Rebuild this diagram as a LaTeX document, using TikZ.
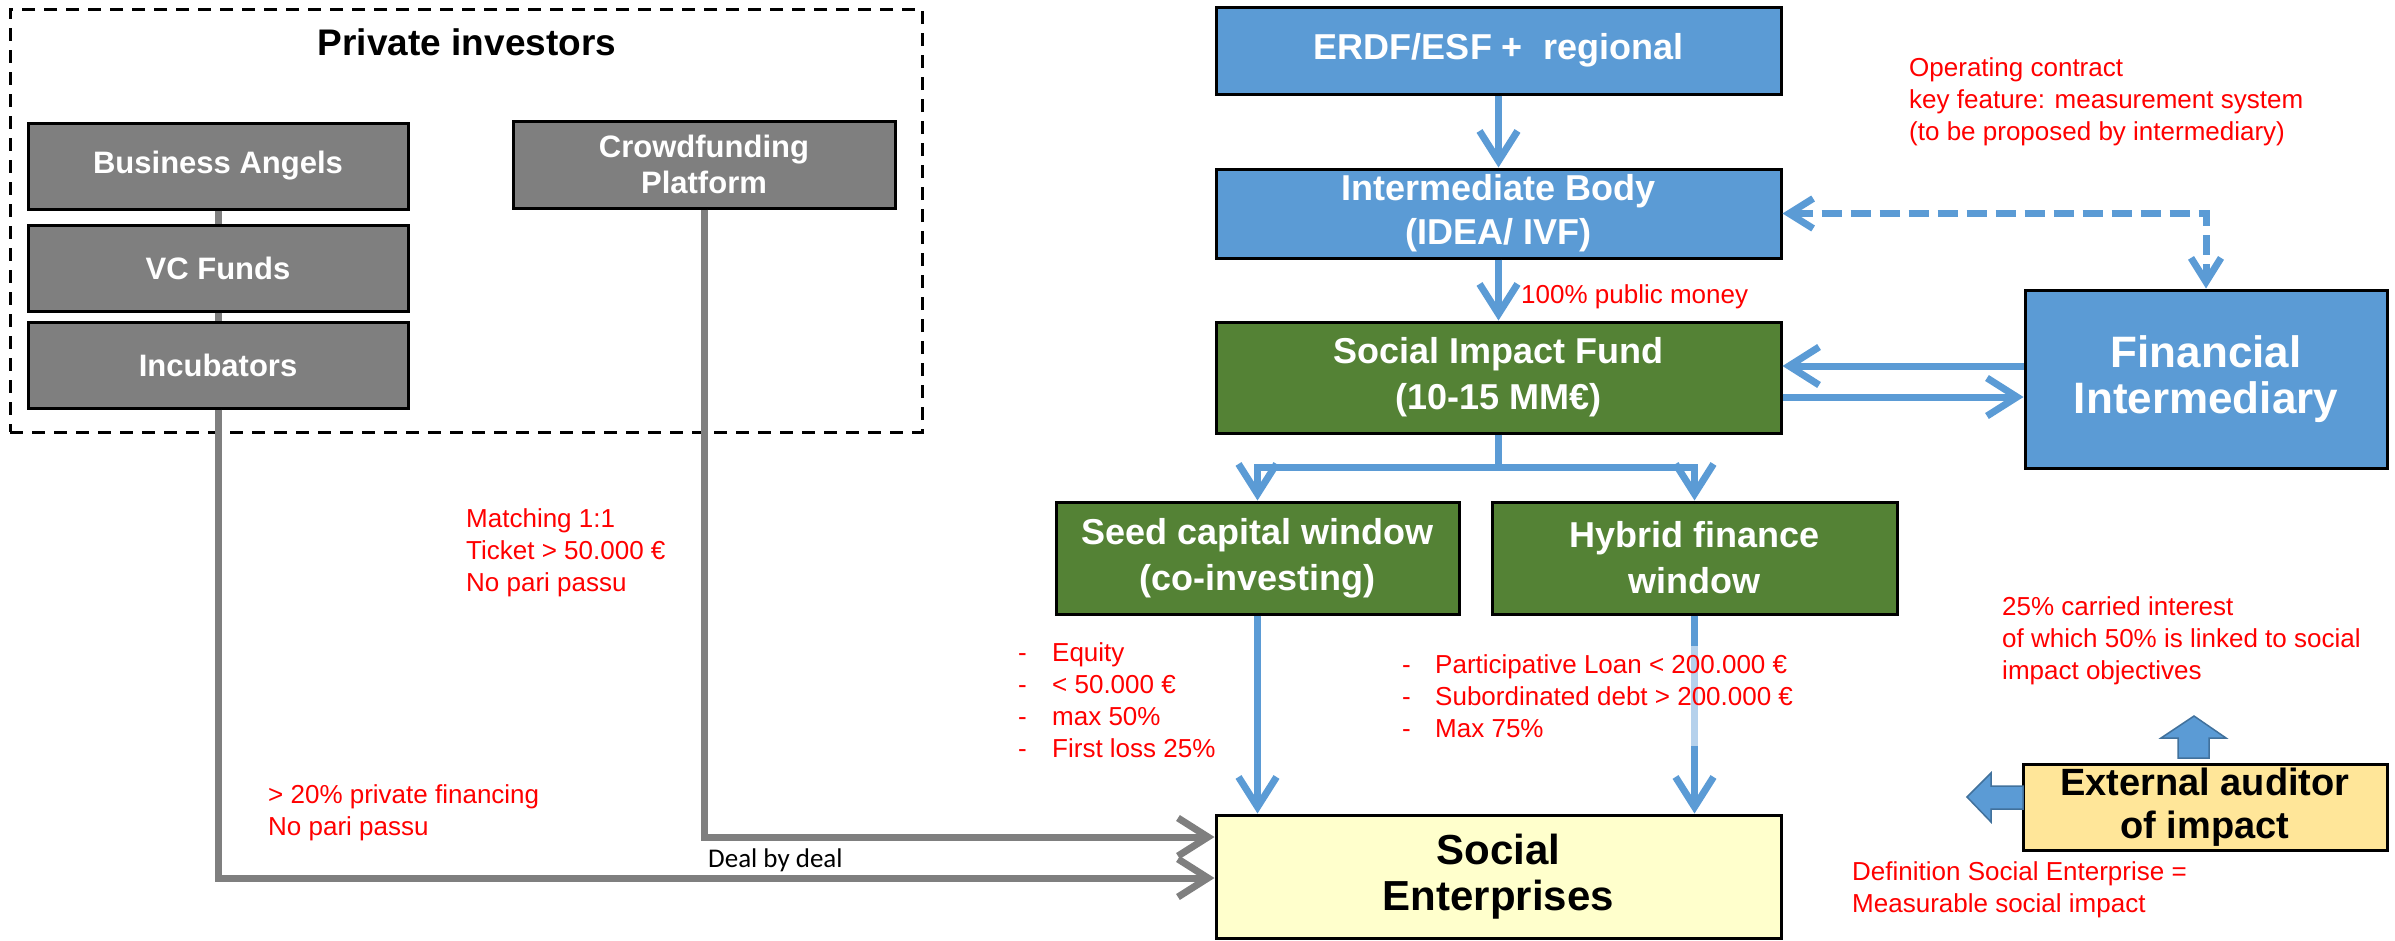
\documentclass[tikz,border=0pt]{standalone}
\usepackage{fontspec}
\setmainfont{Liberation Sans}
\newfontfamily\carl{Carlito}
\usetikzlibrary{arrows.meta}
\definecolor{bblue}{HTML}{5B9BD5}
\definecolor{bgreen}{HTML}{548235}
\definecolor{ggray}{HTML}{7F7F7F}
\definecolor{syellow}{HTML}{FFFFCC}
\definecolor{aorange}{HTML}{FFE699}
\definecolor{rred}{HTML}{FF0000}
\definecolor{bedge}{HTML}{41719C}
\newcommand\myfs[2]{\fontsize{#1}{#2}\selectfont}
\begin{document}
\begin{tikzpicture}[x=1pt,y=-1pt,
 box/.style={draw=black,line width=3pt,inner sep=0pt,align=center},
 graybox/.style={box,fill=ggray,text=white,font=\bfseries\myfs{31}{36}},
 bluebox/.style={box,fill=bblue,text=white,font=\bfseries\myfs{36}{44}},
 greenbox/.style={box,fill=bgreen,text=white,font=\bfseries\myfs{36}{46}},
 note/.style={text=rred,font=\myfs{26}{32},align=left,anchor=west,inner sep=0pt},
 barrow/.style={draw=bblue,line width=7pt,-{Straight Barb[length=30pt,width=38pt]}},
 bdash/.style={draw=bblue,line width=7pt,dash pattern=on 20pt off 9pt,{Straight Barb[length=24pt,width=30pt]}-{Straight Barb[length=24pt,width=30pt]}},
 garrow/.style={draw=ggray,line width=7pt,-{Straight Barb[length=30pt,width=38pt]}},
 gline/.style={draw=ggray,line width=7pt},
 blockarrow/.style={fill=bblue,draw=bedge,line width=1.5pt,line join=miter}
]
\useasboundingbox (0,0) rectangle (2395,940);

% private investors group
\node[draw=black,line width=3pt,dash pattern=on 13pt off 9pt,minimum width=912pt,minimum height=423pt,inner sep=0pt] (pi) at (466,220.5) {};
\node[font=\bfseries\myfs{37}{44}] (pititle) at (467,42) {Private investors};

\node[graybox,minimum width=380pt,minimum height=86pt] (ba) at (218,166) {Business Angels};
\node[graybox,minimum width=380pt,minimum height=86pt] (vc) at (218,268) {VC Funds};
\node[graybox,minimum width=380pt,minimum height=86pt] (inc) at (218,365) {Incubators};
\node[graybox,minimum width=382pt,minimum height=87pt] (crowd) at (704,164.5) {Crowdfunding\\Platform};
\draw[gline] (ba.south) -- (vc.north);
\draw[gline] (vc.south) -- (inc.north);

% public side
\node[bluebox,minimum width=565pt,minimum height=87pt] (erdf) at (1498.5,50.5) {ERDF/ESF +\ \ regional};
\node[bluebox,minimum width=565pt,minimum height=89pt] (ib) at (1498.5,213.5) {Intermediate Body\\(IDEA/ IVF)};
\node[greenbox,minimum width=565pt,minimum height=111pt] (sif) at (1498.5,377.5) {Social Impact Fund\\(10-15 MM€)};
\node[box,fill=bblue,text=white,font=\bfseries\myfs{44}{46},minimum width=362pt,minimum height=178pt] (fi) at (2206,379) {Financial\\Intermediary};
\node[greenbox,minimum width=403pt,minimum height=112pt] (seed) at (1257.5,558) {Seed capital window\\(co-investing)};
\node[greenbox,minimum width=405pt,minimum height=112pt] (hyb) at (1694.5,558) {Hybrid finance\\window};
\node[box,fill=syellow,text=black,font=\bfseries\myfs{42}{46},minimum width=565pt,minimum height=123pt] (se) at (1498.5,876.5) {Social\\Enterprises};
\node[box,fill=aorange,text=black,font=\bfseries\myfs{38}{43},minimum width=364pt,minimum height=86pt] (aud) at (2205,807) {External auditor\\of impact};

% blue arrows
\draw[barrow] (erdf.south) -- (ib.north);
\draw[barrow] (ib.south) -- (sif.north);
\coordinate (split) at (1498.5,467);
\draw[line width=7pt,draw=bblue] (sif.south) -- (split);
\draw[barrow] (split) -| (seed.north);
\draw[barrow] (split) -| (hyb.north);
\draw[barrow] (fi.west |- 0,366) -- (sif.east |- 0,366);
\draw[barrow] (sif.east |- 0,397) -- (fi.west |- 0,397);
\coordinate (dc) at (fi.north |- ib.east);
\draw[bdash] (ib.east) -- (dc) -- (fi.north);
\draw[barrow] (seed.south) -- (seed.south |- se.north);
\draw[barrow] (hyb.south) -- (hyb.south |- se.north);

% gray arrows
\coordinate (c1) at (inc.south |- 0,878);
\coordinate (c2) at (crowd.south |- 0,837);
\draw[garrow] (inc.south) -- (c1) -- (se.west |- c1);
\draw[garrow] (crowd.south) -- (c2) -- (se.west |- c2);
\node[font=\carl\myfs{27}{32},anchor=west,inner sep=0pt] (deal) at (708,860) {Deal by deal};

% block arrows
\draw[blockarrow] (2178,758) -- (2209,758) -- (2209,738) -- (2226,738) -- (2194,716) -- (2161,738) -- (2178,738) -- cycle;
\draw[blockarrow] (2023,786) -- (1991,786) -- (1991,773) -- (1967,797) -- (1991,822) -- (1991,809) -- (2023,809) -- cycle;

% red notes
\node[note] (opc) at (1909,102) {Operating contract\\key feature: measurement system\\(to be proposed by intermediary)};
\node[note] (pub) at (1521,297) {100\% public money};
\node[note] (match) at (466,553) {Matching 1:1\\Ticket > 50.000 €\\No pari passu};
\node[note] (priv) at (268,812.5) {> 20\% private financing\\No pari passu};
\node[note] (seedl) at (1018,700) {\makebox[34pt][l]{-}Equity\\\makebox[34pt][l]{-}< 50.000 €\\\makebox[34pt][l]{-}max 50\%\\\makebox[34pt][l]{-}First loss 25\%};
\node[note,fill=white,fill opacity=0.55,text opacity=1,inner ysep=8pt] (hybl) at (1402,696) {\makebox[33pt][l]{-}Participative Loan < 200.000 €\\\makebox[33pt][l]{-}Subordinated debt > 200.000 €\\\makebox[33pt][l]{-}Max 75\%};
\node[note] (carry) at (2002,641) {25\% carried interest\\of which 50\% is linked to social\\impact objectives};
\node[note] (defn) at (1852,890) {Definition Social Enterprise =\\Measurable social impact};
\end{tikzpicture}
\end{document}
